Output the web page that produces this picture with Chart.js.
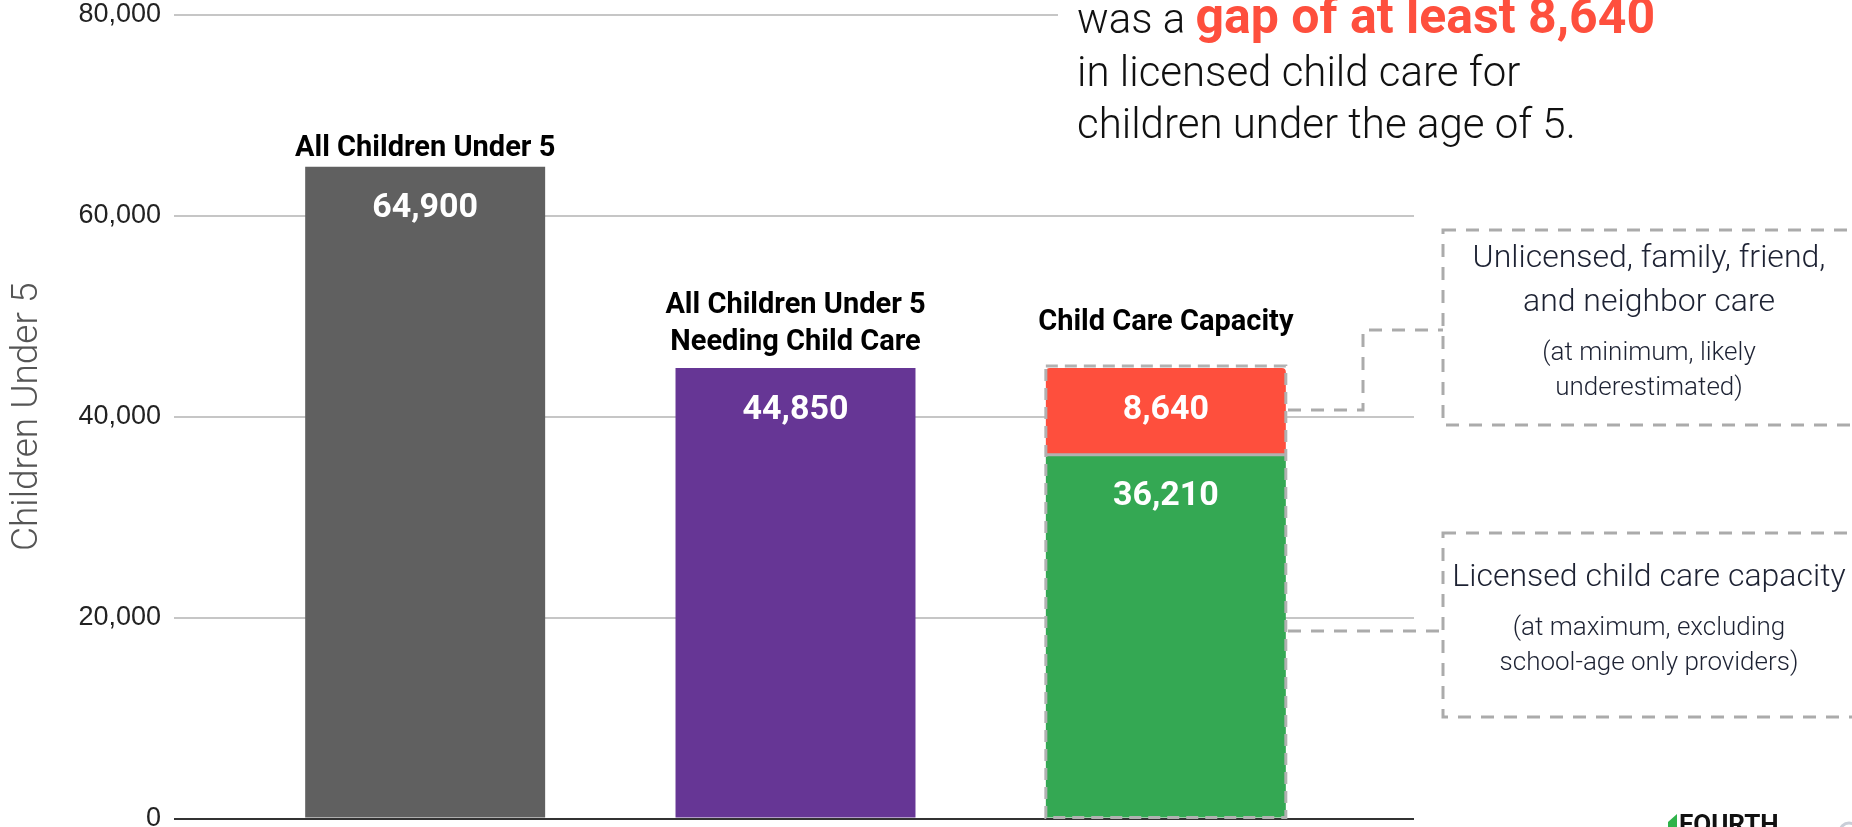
<!DOCTYPE html>
<html>
<head>
<meta charset="utf-8">
<title>Child care gap</title>
<script src="https://cdn.jsdelivr.net/npm/chart.js@4.4.0/dist/chart.umd.min.js"></script>
<style>
  html, body { margin: 0; padding: 0; background: #fff; overflow: hidden; }
  #gapChart { display: block; }
</style>
</head>
<body>
<canvas id="gapChart" width="1852" height="827"></canvas>
<script>
// values
const categories = [
  ['All Children Under 5'],
  ['All Children Under 5', 'Needing Child Care'],
  ['Child Care Capacity']
];
const allChildren = [64900, null, null];
const needingCare = [null, 44850, null];
const licensedCapacity = [null, null, 36210];
const unlicensedCare = [null, null, 8640];
const yTicks = [0, 20000, 40000, 60000, 80000];
const gapCount = 8640;

(function(){
  const W = 1852;
  const plotLeft = 240, plotRight = 1351;
  const fmt = v => Number(v).toLocaleString('en-US');
  const gridColor = c => (c.tick && c.tick.value === 0) ? '#333333' : '#c6c6c6';
  const dash = [13, 10];

  // how far above a stack the last header line sits
  const headerLift = [18, 25, 45];

  function stackBox(chart, i){
    let top = Infinity, bottom = -Infinity, left = 0, right = 0;
    chart.data.datasets.forEach((ds, d) => {
      if (ds.data[i] == null) return;
      const el = chart.getDatasetMeta(d).data[i];
      top = Math.min(top, el.y);
      bottom = Math.max(bottom, el.base);
      left = el.x - el.width / 2;
      right = el.x + el.width / 2;
    });
    return { top, bottom, left, right, x: (left + right) / 2 };
  }

  // keep tick labels from pushing the plot area inward
  function fixAxis(width){
    return s => {
      s.width = width;
      s.paddingTop = 0;
      s.paddingBottom = 0;
    };
  }

  const barText = {
    id: 'barText',
    afterDatasetsDraw(chart){
      const ctx = chart.ctx;
      ctx.save();
      ctx.textAlign = 'center';
      ctx.textBaseline = 'middle';

      // numbers inside each segment
      ctx.fillStyle = '#ffffff';
      ctx.font = 'bold 34px Roboto, "Noto Sans", sans-serif';
      chart.data.datasets.forEach((ds, d) => {
        chart.getDatasetMeta(d).data.forEach((el, i) => {
          if (ds.data[i] == null) return;
          ctx.fillText(fmt(ds.data[i]), el.x, el.y + 42);
        });
      });

      // dashed frame around the capacity stack
      const cap = stackBox(chart, 2);
      const split = chart.getDatasetMeta(3).data[2];
      ctx.strokeStyle = '#b1b1b1';
      ctx.lineWidth = 3;
      ctx.beginPath();
      ctx.moveTo(cap.left, split.base);
      ctx.lineTo(cap.right, split.base);
      ctx.stroke();
      ctx.setLineDash([12, 7]);
      ctx.strokeRect(cap.left, cap.top - 2, cap.right - cap.left, cap.bottom - cap.top + 2);
      ctx.setLineDash([]);

      // headers above stacks
      ctx.fillStyle = '#000000';
      ctx.font = 'bold 29px Roboto, "Noto Sans", sans-serif';
      chart.data.labels.forEach((lines, i) => {
        const b = stackBox(chart, i);
        const last = b.top - headerLift[i];
        lines.forEach((line, k) => {
          ctx.fillText(line, b.x, last - (lines.length - 1 - k) * 37);
        });
      });
      ctx.restore();
    }
  };

  const notes = {
    id: 'notes',
    afterDraw(chart){
      const ctx = chart.ctx;
      ctx.save();

      // headline
      ctx.fillStyle = '#ffffff';
      ctx.fillRect(1058, 0, W - 1058, 160);
      ctx.textBaseline = 'alphabetic';
      ctx.textAlign = 'left';
      ctx.fillStyle = '#111111';
      ctx.font = '300 42px Roboto, sans-serif';
      const lead = 'was a ';
      ctx.fillText(lead, 1077, 33);
      const leadW = ctx.measureText(lead).width;
      ctx.fillStyle = '#fe4f3d';
      ctx.font = 'bold 50px Roboto, sans-serif';
      ctx.fillText('gap of at least ' + fmt(gapCount), 1077 + leadW, 33);
      ctx.fillStyle = '#111111';
      ctx.font = '300 42px Roboto, sans-serif';
      ctx.fillText('in licensed child care for', 1077, 86);
      ctx.fillText('children under the age of 5.', 1077, 138);

      // callout boxes and leader lines
      ctx.strokeStyle = '#ababab';
      ctx.lineWidth = 3;
      ctx.setLineDash(dash);
      ctx.strokeRect(1443, 230, 520, 195);
      ctx.strokeRect(1443, 533, 520, 184);
      ctx.beginPath();
      ctx.moveTo(1288, 410);
      ctx.lineTo(1363, 410);
      ctx.lineTo(1363, 330);
      ctx.lineTo(1443, 330);
      ctx.moveTo(1288, 631);
      ctx.lineTo(1443, 631);
      ctx.stroke();
      ctx.setLineDash([]);

      ctx.textAlign = 'center';
      ctx.textBaseline = 'middle';
      ctx.fillStyle = '#1d2233';
      ctx.font = '300 32px Roboto, sans-serif';
      ctx.fillText('Unlicensed, family, friend,', 1649, 259);
      ctx.fillText('and neighbor care', 1649, 303);
      ctx.fillText('Licensed child care capacity', 1649, 578);
      ctx.font = '300 26px Roboto, sans-serif';
      ctx.fillText('(at minimum, likely', 1649, 353);
      ctx.fillText('underestimated)', 1649, 388);
      ctx.fillText('(at maximum, excluding', 1649, 628);
      ctx.fillText('school-age only providers)', 1649, 663);

      // logo corner
      ctx.fillStyle = '#2fb34a';
      ctx.beginPath();
      ctx.moveTo(1668, 827);
      ctx.lineTo(1668, 822);
      ctx.lineTo(1677, 814);
      ctx.lineTo(1677, 827);
      ctx.closePath();
      ctx.fill();
      ctx.fillStyle = '#111111';
      ctx.textAlign = 'left';
      ctx.textBaseline = 'alphabetic';
      ctx.font = 'bold 26px Roboto, sans-serif';
      ctx.fillText('FOURTH', 1679, 833);
      ctx.strokeStyle = '#c9ced8';
      ctx.lineWidth = 3;
      ctx.beginPath();
      ctx.arc(1849, 832, 9, 0, Math.PI * 2);
      ctx.stroke();
      ctx.restore();
    }
  };

  const common = { stack: 'care', barPercentage: 0.648, categoryPercentage: 1, borderWidth: 0 };

  new Chart(document.getElementById('gapChart'), {
    type: 'bar',
    data: {
      labels: categories,
      datasets: [
        Object.assign({ label: 'All children under 5', data: allChildren, backgroundColor: '#606060' }, common),
        Object.assign({ label: 'Needing child care', data: needingCare, backgroundColor: '#663695' }, common),
        Object.assign({ label: 'Licensed capacity', data: licensedCapacity, backgroundColor: '#34a853' }, common),
        Object.assign({ label: 'Unlicensed care', data: unlicensedCare, backgroundColor: '#fe4f3d',
          borderRadius: { topLeft: 4, topRight: 4, bottomLeft: 0, bottomRight: 0 }, borderSkipped: false }, common)
      ]
    },
    options: {
      responsive: false,
      devicePixelRatio: 1,
      animation: false,
      layout: { padding: { top: 15, bottom: 8.5, left: 0, right: 0 } },
      plugins: { legend: { display: false }, tooltip: { enabled: false } },
      scales: {
        x: { stacked: true, display: false },
        y: {
          stacked: true,
          min: 0,
          max: 80000,
          afterBuildTicks: s => { s.ticks = yTicks.map(v => ({ value: v })); },
          afterFit: fixAxis(plotLeft),
          border: { display: false },
          grid: { color: gridColor, lineWidth: 2, tickLength: 66, tickWidth: 2 },
          ticks: { padding: 13, color: '#222222', font: { family: '"Liberation Sans", Arial, sans-serif', size: 27 } },
          title: {
            display: true,
            text: 'Children Under 5',
            color: '#555555',
            font: { family: 'Roboto, sans-serif', size: 37, weight: '300', lineHeight: 1 },
            padding: { top: 9, bottom: 0 }
          }
        },
        yRight: {
          position: 'right',
          min: 0,
          max: 80000,
          afterBuildTicks: s => { s.ticks = yTicks.map(v => ({ value: v })); },
          afterFit: fixAxis(W - plotRight),
          border: { display: false },
          grid: { drawOnChartArea: false, color: gridColor, lineWidth: 2, tickLength: 63, tickWidth: 2 },
          ticks: { display: false }
        }
      }
    },
    plugins: [barText, notes]
  });
})();
</script>
</body>
</html>
